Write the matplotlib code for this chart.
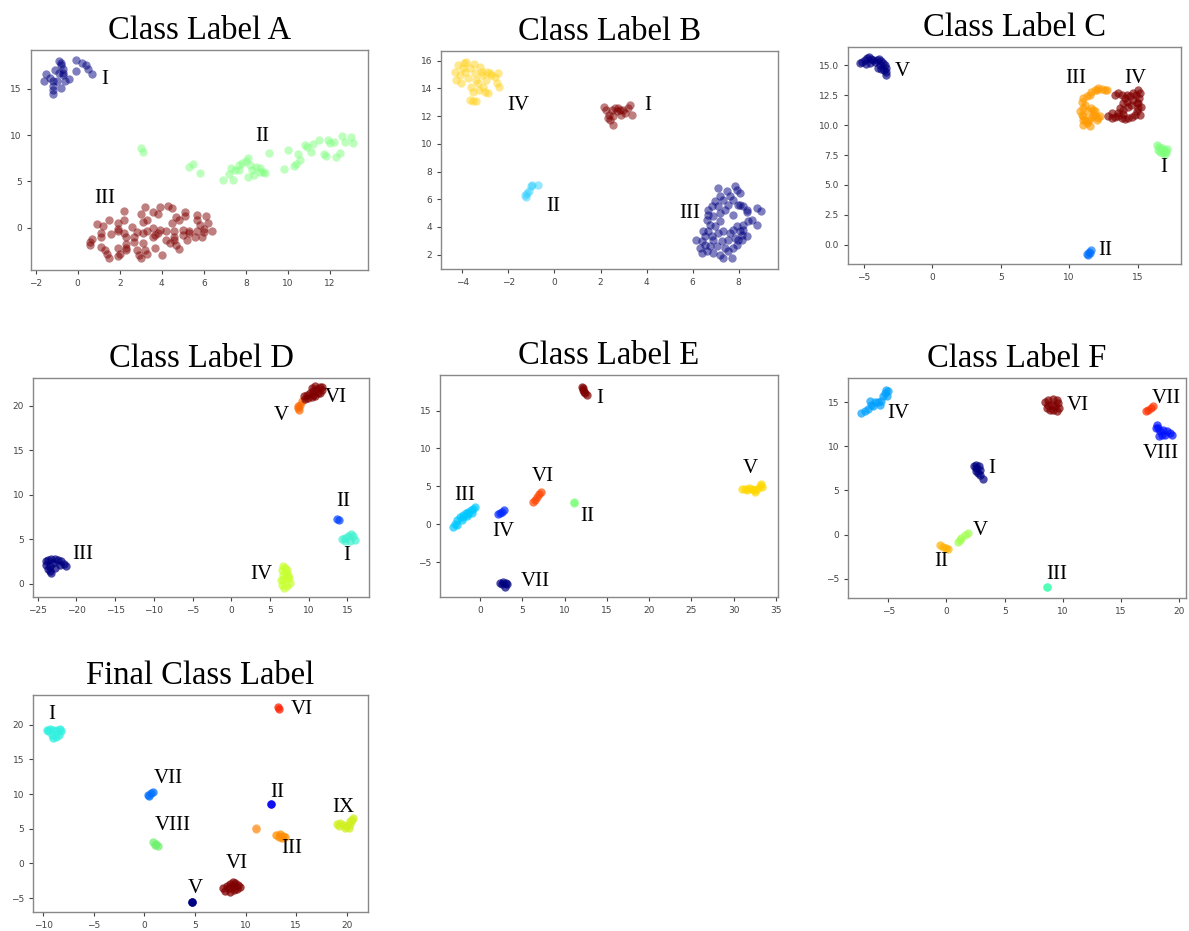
import matplotlib
matplotlib.use("Agg")
import matplotlib.pyplot as plt

SERIF = ["Liberation Serif", "DejaVu Serif"]

# ---------------- Class Label A ----------------
a_I = [(-1.6, 15.8), (-1.5, 16.6), (-1.3, 16.2), (-1.2, 15.3), (-1.2, 14.9), (-1.2, 14.4),
       (-1.1, 17.0), (-1.0, 15.8), (-0.9, 16.7), (-0.8, 17.6), (-0.8, 17.8), (-0.7, 17.1),
       (-0.7, 16.5), (-0.6, 15.9), (-0.8, 15.1), (-0.4, 16.1), (-0.1, 18.1), (-0.1, 16.9),
       (0.2, 17.8), (0.4, 17.6), (0.5, 17.1), (0.7, 16.6), (-0.9, 18.0), (-0.7, 16.7),
       (-1.2, 15.8)]
a_II = [(3.0, 8.6), (3.1, 8.2), (5.3, 6.6), (5.5, 6.9), (5.8, 5.9), (6.9, 5.2), (7.2, 5.8),
        (7.3, 6.4), (7.4, 5.2), (7.5, 6.2), (7.7, 6.8), (7.8, 7.0), (8.0, 7.2), (8.1, 7.5),
        (8.2, 6.8), (8.3, 6.2), (8.4, 5.7), (8.5, 6.6), (8.7, 6.4), (8.8, 6.0), (8.9, 5.9),
        (9.1, 8.1), (9.8, 6.3), (10.0, 8.4), (10.3, 6.7), (10.4, 6.9), (10.5, 8.0), (10.6, 7.3),
        (10.8, 8.9), (10.9, 8.7), (11.1, 8.2), (11.2, 9.0), (11.5, 9.5), (11.7, 8.0), (11.8, 7.8),
        (11.9, 9.5), (12.0, 9.1), (12.2, 9.3), (12.3, 7.6), (12.5, 8.1), (12.6, 9.9), (12.7, 9.3),
        (13.0, 9.8), (13.1, 9.2), (8.1, 5.5), (7.7, 6.2), (8.7, 6.0)]
a_III = [(3.2, 2.2), (3.9, 2.2), (4.3, 2.3), (4.5, 2.1), (2.2, 1.8), (3.6, 1.7), (5.1, 1.7),
         (3.0, 1.5), (5.7, 1.4), (6.1, 1.3), (5.1, 1.3), (4.7, 1.2), (3.8, 1.5), (3.3, 0.8),
         (3.1, 0.6), (1.5, 0.8), (2.2, 0.8), (4.8, 0.8), (5.7, 0.8), (6.2, 0.5), (4.5, 0.5),
         (5.8, 0.3), (0.9, 0.4), (1.2, 0.2), (1.9, 0.5), (1.9, -0.1), (2.6, 0.1), (1.9, -0.4),
         (2.8, -0.5), (3.6, 0.0), (3.9, -0.3), (4.2, -0.4), (4.6, -0.4), (5.0, -0.3), (5.3, -0.4),
         (5.7, -0.4), (6.0, -0.1), (6.4, -0.4), (5.3, -0.6), (6.0, -0.5), (3.8, -0.6), (0.7, -1.2),
         (0.6, -1.5), (1.1, -0.6), (1.1, -1.0), (1.6, -0.7), (2.2, -0.6), (2.3, -1.0), (2.7, -1.0),
         (3.1, -0.6), (3.3, -0.4), (3.6, -1.0), (4.2, -1.3), (3.7, -0.8), (4.6, -1.0), (5.2, -1.3),
         (5.6, -1.0), (5.9, -1.0), (4.6, -1.3), (5.0, -0.8), (0.6, -1.9), (1.1, -2.1), (1.3, -2.4),
         (1.4, -2.8), (1.5, -3.3), (1.9, -2.2), (2.0, -2.8), (2.3, -1.8), (2.3, -2.2), (2.3, -2.4),
         (1.9, -3.1), (2.8, -2.4), (3.0, -3.3), (2.9, -2.9), (3.1, -1.7), (3.2, -2.4), (3.3, -2.8),
         (3.7, -2.2), (4.0, -2.9), (4.4, -1.7), (4.7, -1.9), (4.8, -2.3), (2.7, -1.5)]

# ---------------- Class Label B ----------------
b_IV = [(-4.33, 15.22), (-4.26, 14.62), (-4.19, 15.70), (-4.12, 14.98), (-4.04, 14.38),
        (-3.94, 15.82), (-3.90, 15.22), (-3.83, 15.94), (-3.75, 14.74), (-3.68, 15.46),
        (-3.61, 14.14), (-3.54, 13.78), (-3.51, 15.77), (-3.46, 15.10), (-3.39, 14.62),
        (-3.32, 14.38), (-3.28, 13.90), (-3.25, 15.58), (-3.17, 14.98), (-3.10, 14.14),
        (-3.03, 13.78), (-2.99, 14.62), (-2.93, 15.22), (-2.88, 13.66), (-3.65, 13.18),
        (-3.54, 13.06), (-3.42, 13.11), (-2.81, 15.15), (-2.74, 14.98), (-2.59, 14.86),
        (-2.49, 14.43), (-2.45, 15.10), (-2.41, 14.14), (-3.97, 15.46), (-3.13, 15.22)]
b_I = [(2.14, 12.63), (2.26, 12.41), (2.38, 12.10), (2.43, 11.74), (2.55, 11.38), (2.62, 12.58),
       (2.70, 12.34), (2.77, 12.58), (2.84, 12.46), (2.96, 12.41), (3.06, 12.22), (3.20, 12.58),
       (3.28, 12.82), (3.35, 12.10), (2.55, 11.98), (2.33, 11.86), (2.48, 12.46), (2.91, 12.10)]
b_II = [(-1.29, 6.33), (-1.19, 6.45), (-1.10, 6.57), (-1.04, 6.93), (-0.96, 7.02), (-0.71, 7.00),
        (-1.25, 6.16)]
b_III = [(7.12, 6.81), (7.48, 6.57), (7.62, 6.21), (7.84, 6.93), (7.91, 6.69), (8.06, 6.45),
         (7.77, 5.97), (7.33, 5.97), (7.19, 6.21), (6.97, 5.85), (6.83, 5.49), (6.68, 5.25),
         (7.12, 5.49), (7.55, 5.61), (7.99, 5.61), (8.20, 5.49), (8.35, 5.25), (8.35, 5.05),
         (7.41, 5.25), (7.19, 5.00), (6.90, 4.76), (6.68, 4.88), (7.77, 4.88), (8.78, 5.37),
         (8.96, 5.13), (8.42, 4.40), (8.57, 4.52), (8.20, 4.16), (8.78, 4.16), (8.06, 5.61),
         (6.61, 4.52), (6.75, 4.16), (6.97, 4.04), (7.19, 4.40), (6.46, 3.68), (6.68, 3.68),
         (6.83, 3.32), (6.39, 2.96), (6.17, 3.08), (6.32, 2.48), (6.54, 2.72), (6.90, 3.08),
         (7.12, 3.56), (7.33, 3.68), (7.62, 3.56), (7.77, 3.80), (8.06, 3.68), (8.20, 3.80),
         (8.35, 3.32), (8.13, 3.08), (7.84, 3.20), (7.55, 3.08), (7.26, 2.96), (7.04, 2.60),
         (6.75, 2.60), (6.61, 2.24), (6.39, 2.12), (6.90, 2.12), (7.19, 2.00), (7.41, 2.48),
         (7.55, 2.24), (7.77, 2.48), (7.91, 2.72), (7.99, 3.08), (8.13, 3.44), (7.33, 1.76),
         (7.70, 1.76), (6.54, 3.32), (7.91, 4.04)]

# ---------------- Class Label C ----------------
c_V = [(-5.27, 15.20), (-5.12, 15.25), (-4.95, 15.42), (-4.78, 15.61), (-4.63, 15.70),
       (-4.46, 15.53), (-4.34, 15.42), (-4.22, 15.25), (-4.05, 15.47), (-3.90, 15.53),
       (-3.73, 15.34), (-3.61, 15.20), (-3.49, 15.06), (-3.41, 14.78), (-3.37, 14.41),
       (-3.41, 14.22), (-3.73, 14.69), (-3.98, 14.78), (-4.59, 15.20), (-4.88, 15.14),
       (-3.56, 14.58), (-3.85, 15.06)]
c_III = [(10.90, 11.98), (11.02, 12.26), (11.27, 12.40), (11.51, 12.54), (11.63, 12.74),
         (11.88, 12.91), (12.12, 13.10), (12.37, 13.02), (12.61, 12.91), (12.78, 12.96),
         (12.00, 12.96), (10.78, 11.15), (10.90, 10.87), (11.02, 10.73), (11.15, 10.45),
         (11.27, 10.17), (11.02, 10.03), (11.39, 10.31), (11.63, 10.59), (11.76, 10.73),
         (11.88, 10.87), (11.76, 11.28), (11.63, 11.42), (11.88, 11.15), (11.02, 11.42),
         (11.15, 11.70), (10.98, 10.45), (11.51, 9.94), (11.34, 11.15), (12.00, 10.45),
         (12.12, 10.59), (12.24, 10.73)]
c_IV = [(12.85, 10.73), (13.10, 10.59), (13.34, 10.67), (13.59, 10.73), (13.83, 10.59),
        (14.07, 10.50), (14.32, 10.59), (14.56, 10.67), (14.80, 10.87), (14.93, 11.15),
        (15.05, 11.42), (15.05, 11.84), (15.12, 12.26), (15.17, 12.68), (15.05, 12.91),
        (14.88, 12.54), (14.68, 12.12), (14.49, 11.70), (14.32, 11.56), (13.95, 11.28),
        (13.71, 11.42), (13.59, 11.01), (13.34, 12.54), (13.59, 12.68), (13.83, 12.54),
        (14.07, 12.26), (14.20, 12.54), (14.44, 12.40), (14.68, 12.68), (13.95, 11.84),
        (14.24, 11.98), (14.93, 11.84), (15.22, 11.56), (15.17, 10.87), (13.10, 11.01),
        (13.95, 10.95)]
c_I = [(16.44, 8.35), (16.59, 8.21), (16.76, 8.07), (16.93, 7.93), (17.07, 7.79), (17.17, 7.99),
       (16.63, 7.79), (16.83, 7.65), (16.51, 7.93), (17.00, 7.60)]
c_II = [(11.27, -0.78), (11.44, -0.61), (11.63, -0.45), (11.34, -0.87), (11.51, -0.73)]

# ---------------- Class Label D ----------------
d_III = [(-23.97, 2.51), (-23.66, 2.70), (-23.23, 2.77), (-22.80, 2.81), (-22.37, 2.70),
         (-21.94, 2.51), (-21.64, 2.25), (-21.38, 2.02), (-22.16, 2.13), (-23.02, 2.32),
         (-23.45, 1.95), (-23.66, 1.65), (-23.45, 1.39), (-23.23, 1.20), (-22.80, 1.76),
         (-23.88, 2.13)]
d_IV = [(6.72, 2.02), (6.51, 1.57), (6.94, 1.76), (6.64, 1.01), (7.07, 1.20), (6.72, 0.45),
        (7.16, 0.64), (6.51, -0.11), (7.16, -0.30), (7.59, 0.07), (7.37, 1.01), (6.81, -0.49),
        (6.38, 0.37), (7.50, 0.64), (7.24, 1.57)]
d_I = [(14.27, 5.02), (14.70, 5.13), (15.13, 5.39), (15.43, 5.62), (15.78, 5.32), (15.99, 4.94),
       (15.34, 4.76), (14.70, 4.83)]
d_II = [(13.62, 7.27), (13.88, 7.12)]
d_V = [(8.66, 19.74), (8.88, 20.12), (9.09, 20.49), (8.79, 19.55), (8.58, 19.93)]
d_VI = [(9.40, 21.05), (9.74, 21.24), (10.17, 21.42), (10.60, 21.61), (11.03, 21.87),
        (11.47, 22.10), (11.68, 21.80), (11.25, 21.42), (10.82, 21.05), (10.39, 20.97),
        (9.96, 20.86), (10.39, 21.99), (10.82, 22.17), (11.47, 21.42), (11.77, 22.10),
        (10.60, 21.24), (9.53, 20.75)]

# ---------------- Class Label E ----------------
e_I = [(12.03, 18.15), (12.23, 17.71), (12.43, 17.27), (12.62, 17.05), (12.15, 17.93), (12.35, 17.49)]
e_III = [(-3.16, -0.35), (-2.96, 0.09), (-2.68, 0.53), (-2.37, 0.97), (-1.97, 1.19), (-1.66, 1.50),
         (-1.38, 1.63), (-1.10, 1.85), (-0.79, 2.07), (-0.59, 2.29), (-1.58, 1.06), (-2.17, 0.62),
         (-2.76, -0.13), (-0.99, 1.50), (-1.97, 0.97), (-1.38, 1.32)]
e_IV = [(2.17, 1.32), (2.56, 1.63), (2.84, 1.85), (2.37, 1.50)]
e_VI = [(6.31, 2.95), (6.71, 3.61), (7.02, 4.05), (7.22, 4.27), (6.51, 3.26)]
e_II = [(11.12, 2.86), (11.10, 2.88)]
e_V = [(30.97, 4.58), (31.36, 4.71), (31.76, 4.80), (32.15, 4.71), (32.43, 4.49), (32.74, 4.71),
       (33.06, 5.02), (33.21, 5.29), (33.33, 4.93), (32.54, 4.27), (31.56, 4.49)]
e_VII = [(2.37, -7.75), (2.76, -7.62), (3.08, -7.75), (3.23, -7.93), (2.96, -8.28), (2.56, -7.93)]

# ---------------- Class Label F ----------------
f_IV = [(-7.31, 13.79), (-7.02, 13.98), (-6.73, 14.24), (-6.45, 14.73), (-6.16, 15.00),
        (-5.87, 15.00), (-5.59, 15.11), (-5.44, 15.68), (-5.30, 16.06), (-5.16, 16.44),
        (-5.01, 16.25), (-5.10, 15.68), (-6.30, 14.55), (-6.59, 15.11), (-5.73, 14.73)]
f_VI = [(8.45, 15.00), (8.74, 15.30), (9.17, 15.38), (9.46, 15.23), (9.60, 14.92), (9.68, 14.36),
        (9.46, 13.98), (9.17, 14.09), (8.88, 14.17), (8.60, 14.36), (9.03, 14.73), (9.31, 14.55),
        (8.74, 14.73)]
f_VII = [(17.13, 13.98), (17.34, 14.17), (17.54, 14.36), (17.77, 14.62)]
f_VIII = [(18.05, 12.46), (18.19, 12.08), (18.34, 11.70), (18.48, 11.33), (18.28, 11.14),
          (18.62, 11.89), (18.91, 11.70), (19.20, 11.52), (19.34, 11.33), (18.77, 11.33),
          (17.99, 12.08)]
f_I = [(2.38, 7.80), (2.58, 7.92), (2.81, 7.80), (2.87, 7.35), (2.72, 6.97), (2.58, 7.16),
       (2.52, 7.54), (2.87, 6.78), (3.15, 6.29)]
f_V = [(1.00, -0.80), (1.29, -0.42), (1.58, -0.04), (1.86, 0.15), (1.15, -0.61)]
f_II = [(-0.57, -1.17), (-0.29, -1.36), (0.00, -1.55), (0.14, -1.67)]
f_III = [(8.65, -5.98), (8.63, -5.96)]

# ---------------- Final Class Label ----------------
g_I = [(-9.67, 19.28), (-9.34, 19.38), (-9.01, 19.18), (-8.68, 19.28), (-8.35, 19.38), (-8.19, 19.04),
       (-8.42, 18.56), (-8.75, 18.22), (-9.01, 18.08), (-9.17, 18.56), (-9.50, 19.04)]
g_VI_top = [(13.17, 22.55), (13.27, 22.26)]
g_VII = [(0.40, 9.90), (0.63, 10.14), (0.89, 10.38), (0.50, 9.76)]
g_II = [(12.51, 8.61), (12.50, 8.63)]
g_IX = [(19.04, 5.72), (19.37, 5.82), (19.70, 5.58), (20.03, 5.34), (20.30, 5.72), (20.53, 6.30),
        (20.63, 6.54), (20.36, 6.06), (19.87, 5.10), (19.21, 5.34), (20.20, 5.10)]
g_X = [(11.02, 5.05), (11.00, 5.03)]
g_III = [(13.04, 4.13), (13.37, 4.28), (13.70, 3.99), (13.93, 3.89), (13.27, 3.80), (13.60, 3.70)]
g_VIII = [(0.89, 3.03), (1.16, 2.84), (1.32, 2.55), (1.06, 2.64)]
g_V = [(4.69, -5.58), (4.70, -5.60), (4.68, -5.55)]
g_VI_bot = [(7.82, -3.56), (8.15, -3.22), (8.48, -2.93), (8.75, -2.60), (8.98, -2.84), (9.21, -3.08),
            (9.41, -3.41), (9.14, -3.70), (8.81, -3.89), (8.42, -4.18), (7.99, -4.04), (8.32, -3.56),
            (8.81, -3.32)]

panels = [
    dict(title="Class Label A", rect=[0.0258, 0.710, 0.2834, 0.2363], alpha=0.5,
         xlim=(-2.24, 13.8), ylim=(-4.57, 19.2), xt=range(-2, 13, 2), yt=[0, 5, 10, 15],
         clusters=[(a_I, "#000080"), (a_II, "#7fff7f"), (a_III, "#800000")],
         labels=[("I", 1.3, 16.0), ("II", 8.76, 9.8), ("III", 1.3, 3.2)]),
    dict(title="Class Label B", rect=[0.3709, 0.7111, 0.2832, 0.2342], alpha=0.5,
         xlim=(-4.93, 9.70), ylim=(0.97, 16.71), xt=range(-4, 9, 2), yt=range(2, 17, 2),
         clusters=[(b_IV, "#ffd21e"), (b_I, "#800000"), (b_II, "#30d0ff"), (b_III, "#000080")],
         labels=[("IV", -1.58, 12.77), ("I", 4.04, 12.77), ("II", -0.06, 5.49), ("III", 5.88, 4.96)]),
    dict(title="Class Label C", rect=[0.7132, 0.7164, 0.2798, 0.2331], alpha=0.65,
         xlim=(-6.17, 18.15), ylim=(-1.62, 16.54), xt=[-5, 0, 5, 10, 15],
         yt=[0.0, 2.5, 5.0, 7.5, 10.0, 12.5, 15.0], yfmt="{:.1f}",
         clusters=[(c_V, "#000080"), (c_III, "#ff9a00"), (c_IV, "#800000"), (c_I, "#7dff7a"),
                   (c_II, "#0070ff")],
         labels=[("V", -2.2, 14.5), ("III", 10.49, 13.88), ("IV", 14.8, 13.88), ("I", 16.88, 6.45),
                 ("II", 12.61, -0.5)]),
    dict(title="Class Label D", rect=[0.0278, 0.3588, 0.2826, 0.2352], alpha=0.7,
         xlim=(-25.6, 17.8), ylim=(-1.5, 23.1), xt=range(-25, 16, 5), yt=range(0, 21, 5),
         clusters=[(d_III, "#000080"), (d_IV, "#c8ff30"), (d_I, "#40f0d0"), (d_II, "#0040ff"),
                   (d_V, "#ff6a00"), (d_VI, "#800000")],
         labels=[("VI", 13.53, 20.86), ("V", 6.51, 18.88), ("II", 14.48, 9.25), ("I", 14.91, 3.15),
                 ("III", -19.14, 3.26), ("IV", 3.92, 1.01)]),
    dict(title="Class Label E", rect=[0.3701, 0.3588, 0.2840, 0.2385], alpha=0.7,
         xlim=(-4.73, 35.2), ylim=(-9.6, 19.7), xt=range(0, 36, 5), yt=range(-5, 16, 5),
         clusters=[(e_I, "#800000"), (e_III, "#00c8ff"), (e_IV, "#0028ff"), (e_VI, "#ff4400"),
                   (e_II, "#7dff7a"), (e_V, "#ffd800"), (e_VII, "#000080")],
         labels=[("I", 14.12, 16.6), ("V", 31.95, 7.36), ("VI", 7.42, 6.34), ("III", -1.78, 3.83),
                 ("II", 12.7, 0.97), ("IV", 2.76, -0.93), ("VII", 6.51, -7.62)]),
    dict(title="Class Label F", rect=[0.7132, 0.3577, 0.2840, 0.2363], alpha=0.7,
         xlim=(-8.45, 20.54), ylim=(-7.2, 17.77), xt=range(-5, 21, 5), yt=range(-5, 16, 5),
         clusters=[(f_IV, "#00a0ff"), (f_VI, "#800000"), (f_VII, "#ff3000"), (f_VIII, "#0010ff"),
                   (f_I, "#000080"), (f_V, "#a0ff50"), (f_II, "#ffb000"), (f_III, "#40ffb0")],
         labels=[("IV", -4.15, 13.79), ("VI", 11.32, 14.62), ("VII", 18.85, 15.49),
                 ("VIII", 18.4, 9.17), ("I", 3.87, 7.54), ("V", 2.92, 0.45), ("II", -0.43, -3.07),
                 ("III", 9.46, -4.58)]),
    dict(title="Final Class Label", rect=[0.0278, 0.0204, 0.2817, 0.2331], alpha=0.75,
         xlim=(-11.0, 22.1), ylim=(-7.0, 24.3), xt=range(-10, 21, 5), yt=range(-5, 21, 5),
         clusters=[(g_I, "#30f0e0"), (g_VI_top, "#ff2000"), (g_VII, "#0070ff"), (g_II, "#0000f0"),
                   (g_IX, "#d0f020"), (g_X, "#ffa040"), (g_III, "#ff8c00"), (g_VIII, "#70f070"),
                   (g_V, "#000080"), (g_VI_bot, "#800000")],
         labels=[("I", -9.17, 21.44), ("VI", 15.58, 22.26), ("VII", 2.38, 12.31), ("II", 13.1, 10.24),
                 ("IX", 19.64, 8.13), ("VIII", 2.81, 5.43), ("III", 14.52, 2.21), ("VI", 9.14, 0.05),
                 ("V", 5.02, -3.56)]),
]

fig = plt.figure(figsize=(11.89, 9.31), dpi=100)

for p in panels:
    ax = fig.add_axes(p["rect"])
    for pts, col in p["clusters"]:
        xs = [q[0] for q in pts]
        ys = [q[1] for q in pts]
        ax.scatter(xs, ys, s=36, c=col, alpha=p["alpha"], linewidths=0)
    for txt, x, y in p["labels"]:
        ax.text(x, y, txt, fontsize=15, family=SERIF, ha="center", va="center")
    ax.set_xlim(*p["xlim"])
    ax.set_ylim(*p["ylim"])
    ax.set_xticks(list(p["xt"]))
    ax.set_yticks(list(p["yt"]))
    if "yfmt" in p:
        ax.set_yticklabels([p["yfmt"].format(v) for v in p["yt"]])
    ax.tick_params(labelsize=6.5, colors="#444444", length=3, width=0.8)
    for sp in ax.spines.values():
        sp.set_color("#888888")
        sp.set_linewidth(1.0)
    ax.set_title(p["title"], fontsize=23.5, family=SERIF, pad=8)

fig.savefig("out.png", dpi=100)
